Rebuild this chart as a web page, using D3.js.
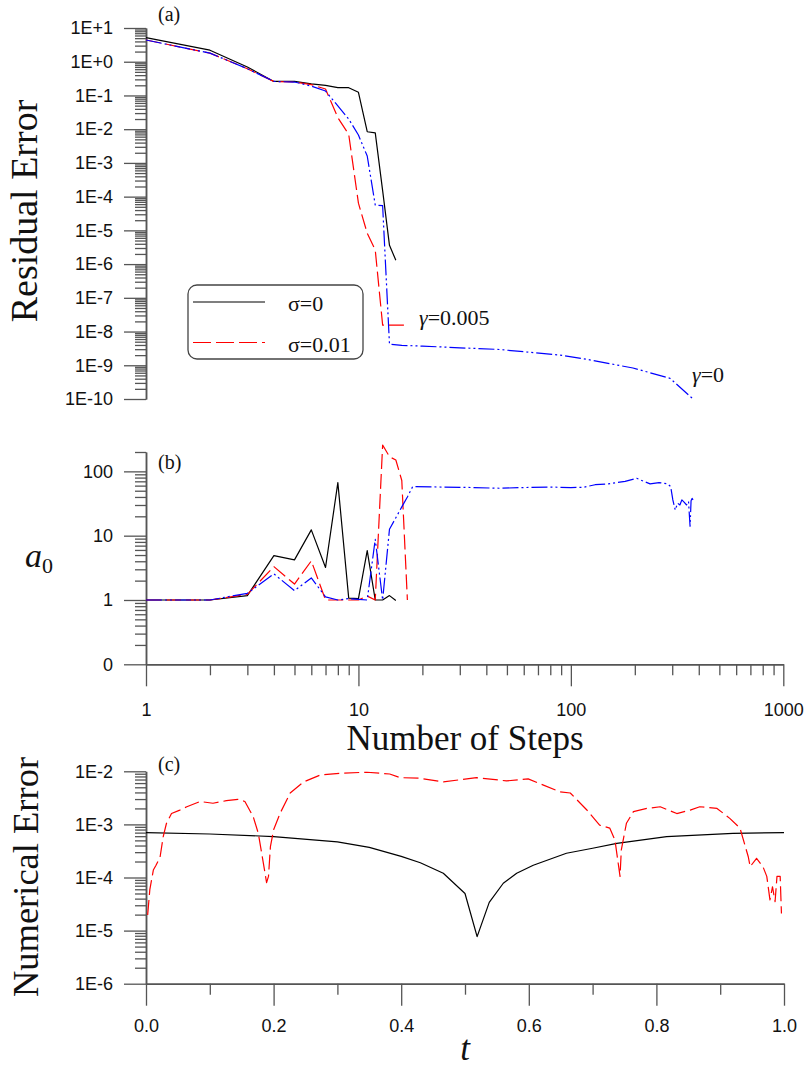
<!DOCTYPE html>
<html>
<head>
<meta charset="utf-8">
<script src="https://cdn.jsdelivr.net/npm/d3@7"></script>
<style>
  body { margin: 0; background: #fff; }
  svg { display: block; }
</style>
</head>
<body>
<svg id="chart" width="808" height="1068"></svg>
<script>
// ---------------- data ----------------
// (a) residual error vs. number of steps
const stepsSigma0 = [1,2,3,4,5,6,7,8,9,10,11,12,13,14,15];
const residualSigma0 = [5.2,2.2,0.7,0.26,0.26,0.22,0.2,0.17,0.17,0.124,0.0084,0.0078,1.5e-4,3.6e-6,1.3e-6];

const stepsGamma005 = [1,2,3,4,5,6,7,8,9,10,11,12,13,14,15,16,17];
const residualGamma005 = [4.4,1.8,0.62,0.26,0.25,0.21,0.155,0.022,0.007,6.4e-5,8.2e-6,2.6e-6,1.55e-8,1.55e-8,1.55e-8,1.55e-8,1.55e-8];

const stepsGamma0 = [1,2,3,4,5,6,7,8,9,10,11,12,13,14,16,20,30,46,89,119,196,293,376];
const residualGamma0 = [4.4,1.8,0.62,0.26,0.25,0.19,0.135,0.049,0.02,0.0067,1.6e-3,5.6e-5,5.4e-5,4.2e-9,3.9e-9,3.7e-9,3.3e-9,2.94e-9,2.0e-9,1.5e-9,8.3e-10,4.1e-10,1.0e-10];

// (b) a0 vs. number of steps
const a0Sigma0 = [1.0,1.0,1.17,4.9,4.2,12.3,3.2,66.7,1.07,1.05,5.85,1.0,1.0,1.17,0.98];
const a0Gamma005 = [1.0,1.0,1.22,3.3,1.77,4.05,1.0,1.0,1.0,1.0,1.15,1.0,257,169,150,72,1.0];
const a0StepsGamma0 = [1,2,3,4,5,6,7,8,9,10,11,12,13,14,16,17,18,25,35,46,60,80,100,115,130,150,180,204,220,236,260,285,295,302,310,318,326,333,342,350,358,364,368,372,376];
const a0Gamma0 = [1.0,1.0,1.27,2.54,1.4,2.2,1.12,1.0,1.05,1.02,1.0,8.8,1.0,12.6,28,40,57.8,57,56,54.6,56,57,56,56.5,62,64,70,78,70,64,67,64,58,36,25,32,30,36,33,30,34,14,35,38,36];

// (c) numerical error vs. t
const tSigma0 = [0,0.1,0.2,0.3,0.35,0.4,0.43,0.466,0.5,0.519,0.538,0.56,0.581,0.607,0.659,0.7,0.738,0.816,0.92,1.0];
const errSigma0 = [7.0e-4,6.6e-4,5.9e-4,4.7e-4,3.7e-4,2.5e-4,1.9e-4,1.2e-4,5e-5,7.7e-6,3.4e-5,7.8e-5,1.2e-4,1.7e-4,2.86e-4,3.55e-4,4.4e-4,5.9e-4,6.8e-4,7.0e-4];
const tSigma001 = [0.0026,0.006,0.0115,0.0157,0.022,0.027,0.032,0.04,0.053,0.064,0.085,0.105,0.126,0.144,0.155,0.168,0.176,0.184,0.189,0.192,0.195,0.2,0.21,0.226,0.247,0.273,0.304,0.346,0.382,0.398,0.429,0.466,0.518,0.565,0.599,0.623,0.649,0.665,0.691,0.711,0.727,0.735,0.743,0.745,0.753,0.764,0.785,0.806,0.832,0.853,0.868,0.895,0.915,0.931,0.944,0.947,0.957,0.967,0.973,0.978,0.982,0.986,0.989,0.994,0.996];
const errSigma001 = [1.97e-5,5.9e-5,1.38e-4,1.7e-4,2.4e-4,5.9e-4,1.04e-3,1.6e-3,1.86e-3,2.15e-3,2.7e-3,2.5e-3,2.8e-3,2.96e-3,2.7e-3,1.4e-3,6.8e-4,1.85e-4,8e-5,1.05e-4,3.8e-4,7.9e-4,1.6e-3,3.9e-3,6.3e-3,8.5e-3,9.2e-3,9.6e-3,8.9e-3,7.6e-3,7.4e-3,6.3e-3,7.6e-3,6.6e-3,7.2e-3,5.5e-3,4.1e-3,3.9e-3,1.87e-3,9.7e-4,8.5e-4,5.1e-4,1.05e-4,3.3e-4,1.05e-3,1.74e-3,2.0e-3,2.15e-3,1.6e-3,1.86e-3,2.15e-3,2.0e-3,1.3e-3,8.5e-4,2.46e-4,1.6e-4,2.3e-4,1.6e-4,1.05e-4,3.8e-5,6.7e-5,3.5e-5,1.05e-4,1.05e-4,2.1e-5];

// axis tick labels
const residualTicks = [1e1,1e0,1e-1,1e-2,1e-3,1e-4,1e-5,1e-6,1e-7,1e-8,1e-9,1e-10];
const residualTickLabels = ["1E+1","1E+0","1E-1","1E-2","1E-3","1E-4","1E-5","1E-6","1E-7","1E-8","1E-9","1E-10"];
const a0Ticks = [0.1,1,10,100];
const a0TickLabels = ["0","1","10","100"];
const stepTicks = [1,10,100,1000];
const stepTickLabels = ["1","10","100","1000"];
const errTicks = [1e-2,1e-3,1e-4,1e-5,1e-6];
const errTickLabels = ["1E-2","1E-3","1E-4","1E-5","1E-6"];
const tTicks = [0,0.2,0.4,0.6,0.8,1.0];
const tTickLabels = ["0.0","0.2","0.4","0.6","0.8","1.0"];
const tMinorTicks = [0.1,0.3,0.5,0.7,0.9];

// ---------------- drawing ----------------
const svg = d3.select("#chart");
const SANS = "'Liberation Sans', Arial, sans-serif";
const SERIF = "'Liberation Serif', 'Times New Roman', serif";
const AXIS_COLOR = "#555";

// minor tick positions 2..9 x 10^k inside [lo, hi]
function logMinor(lo, hi) {
  const out = [];
  for (let k = Math.floor(Math.log10(lo)) - 1; k <= Math.ceil(Math.log10(hi)); k++) {
    for (let m = 2; m <= 9; m++) {
      const v = m * Math.pow(10, k);
      if (v >= lo * 0.999 && v <= hi * 1.001) out.push(v);
    }
  }
  return out;
}

function styleAxis(g) {
  g.select(".domain").attr("stroke", AXIS_COLOR).attr("stroke-width", 1.5);
  g.selectAll(".tick line").attr("stroke", AXIS_COLOR).attr("stroke-width", 1.3);
  g.selectAll(".tick text").attr("fill", "#111")
    .style("font-family", SANS).style("font-size", "18px");
}

function leftAxis(scale, major, labels, minor, x0) {
  const gMinor = svg.append("g").attr("transform", `translate(${x0},0)`)
    .call(d3.axisLeft(scale).tickValues(minor).tickSize(11).tickSizeOuter(0).tickFormat(""));
  styleAxis(gMinor);
  const gMajor = svg.append("g").attr("transform", `translate(${x0},0)`)
    .call(d3.axisLeft(scale).tickValues(major).tickSize(22).tickPadding(11).tickSizeOuter(0)
      .tickFormat((d, i) => labels[i]));
  styleAxis(gMajor);
}

function bottomAxis(scale, major, labels, minor, y0, pad) {
  const gMinor = svg.append("g").attr("transform", `translate(0,${y0})`)
    .call(d3.axisBottom(scale).tickValues(minor).tickSize(11).tickSizeOuter(0).tickFormat(""));
  styleAxis(gMinor);
  const gMajor = svg.append("g").attr("transform", `translate(0,${y0})`)
    .call(d3.axisBottom(scale).tickValues(major).tickSize(22).tickPadding(pad).tickSizeOuter(0)
      .tickFormat((d, i) => labels[i]));
  styleAxis(gMajor);
}

const X0 = 146;
const xSteps = d3.scaleLog().domain([1, 1000]).range([X0, 783.3]);

const styles = {
  black: { stroke: "#000", width: 1.2, dash: null },
  red:   { stroke: "#ff0000", width: 1.2, dash: "15,5" },
  blue:  { stroke: "#0000ff", width: 1.2, dash: "16,3,2,3,2,3" }
};

function drawLine(xs, ys, xScale, yScale, st) {
  const pts = xs.map((x, i) => [x, ys[i]]);
  svg.append("path")
    .datum(pts)
    .attr("fill", "none")
    .attr("stroke", st.stroke)
    .attr("stroke-width", st.width)
    .attr("stroke-dasharray", st.dash)
    .attr("stroke-linejoin", "round")
    .attr("d", d3.line().x(d => xScale(d[0])).y(d => yScale(d[1])));
}

// ---- panel (a): residual error ----
const yRes = d3.scaleLog().domain([1e-10, 10]).range([399, 28]);
leftAxis(yRes, residualTicks, residualTickLabels, logMinor(1e-10, 10), X0);
drawLine(stepsSigma0, residualSigma0, xSteps, yRes, styles.black);
drawLine(stepsGamma005, residualGamma005, xSteps, yRes, styles.red);
drawLine(stepsGamma0, residualGamma0, xSteps, yRes, styles.blue);

// ---- panel (b): a0 ----
const yA0 = d3.scaleLog().domain([0.1, 200]).range([664.3, 452]);
leftAxis(yA0, a0Ticks, a0TickLabels, logMinor(0.1, 200), X0);
bottomAxis(xSteps, stepTicks, stepTickLabels, logMinor(1, 1000), 664.3, 17);
drawLine(stepsSigma0, a0Sigma0, xSteps, yA0, styles.black);
drawLine(stepsGamma005, a0Gamma005, xSteps, yA0, styles.red);
drawLine(a0StepsGamma0, a0Gamma0, xSteps, yA0, styles.blue);

// ---- panel (c): numerical error ----
const xT = d3.scaleLinear().domain([0, 1]).range([X0, 784]);
const yErr = d3.scaleLog().domain([1e-6, 1e-2]).range([983.7, 771.3]);
leftAxis(yErr, errTicks, errTickLabels, logMinor(1e-6, 1e-2), X0);
bottomAxis(xT, tTicks, tTickLabels, tMinorTicks, 983.7, 14);
drawLine(tSigma0, errSigma0, xT, yErr, styles.black);
drawLine(tSigma001, errSigma001, xT, yErr, styles.red);

// ---- text ----
function serifText(x, y, str, size, opts = {}) {
  const t = svg.append("text")
    .attr("x", x).attr("y", y)
    .style("font-family", SERIF).style("font-size", size + "px")
    .attr("fill", "#111")
    .text(str);
  if (opts.anchor) t.attr("text-anchor", opts.anchor);
  if (opts.rotate) t.attr("transform", `rotate(-90,${x},${y})`);
  if (opts.italic) t.style("font-style", "italic");
  return t;
}

serifText(158, 21, "(a)", 20);
serifText(158, 469, "(b)", 20);
serifText(158, 771, "(c)", 20);

serifText(36.5, 211, "Residual Error", 38, { anchor: "middle", rotate: true });
serifText(38, 877, "Numerical Error", 36.5, { anchor: "middle", rotate: true });
serifText(465, 750, "Number of Steps", 35, { anchor: "middle" });
serifText(465, 1060, "t", 35, { anchor: "middle", italic: true });

const a0Label = svg.append("text").attr("x", 25).attr("y", 567)
  .style("font-family", SERIF).attr("fill", "#111");
a0Label.append("tspan").style("font-size", "34px").style("font-style", "italic").text("a");
a0Label.append("tspan").attr("dy", 6).style("font-size", "22px").text("0");

// curve annotations: italic gamma followed by the value
function gammaLabel(x, y, value) {
  const t = svg.append("text").attr("x", x).attr("y", y)
    .style("font-family", SERIF).style("font-size", "22px").attr("fill", "#111");
  t.append("tspan").style("font-style", "italic").text("γ");
  t.append("tspan").text("=" + value);
}
gammaLabel(419, 325, "0.005");
gammaLabel(692, 381.5, "0");

// ---- legend ----
const legend = svg.append("g");
legend.append("rect")
  .attr("x", 188).attr("y", 285).attr("width", 175).attr("height", 74)
  .attr("rx", 9).attr("ry", 9)
  .attr("fill", "#fff").attr("stroke", "#444").attr("stroke-width", 1.3);
const legendItems = [
  { label: "σ=0", stroke: "#555", width: 1.5, dash: null, y: 302 },
  { label: "σ=0.01", stroke: styles.red.stroke, width: 1.2, dash: "18,5", y: 342.5 }
];
legendItems.forEach(it => {
  legend.append("line")
    .attr("x1", 193).attr("x2", 265).attr("y1", it.y).attr("y2", it.y)
    .attr("stroke", it.stroke).attr("stroke-width", it.width)
    .attr("stroke-dasharray", it.dash);
  legend.append("text")
    .attr("x", 288).attr("y", it.y + 9)
    .style("font-family", SERIF).style("font-size", "22px").attr("fill", "#111")
    .text(it.label);
});
</script>
</body>
</html>
